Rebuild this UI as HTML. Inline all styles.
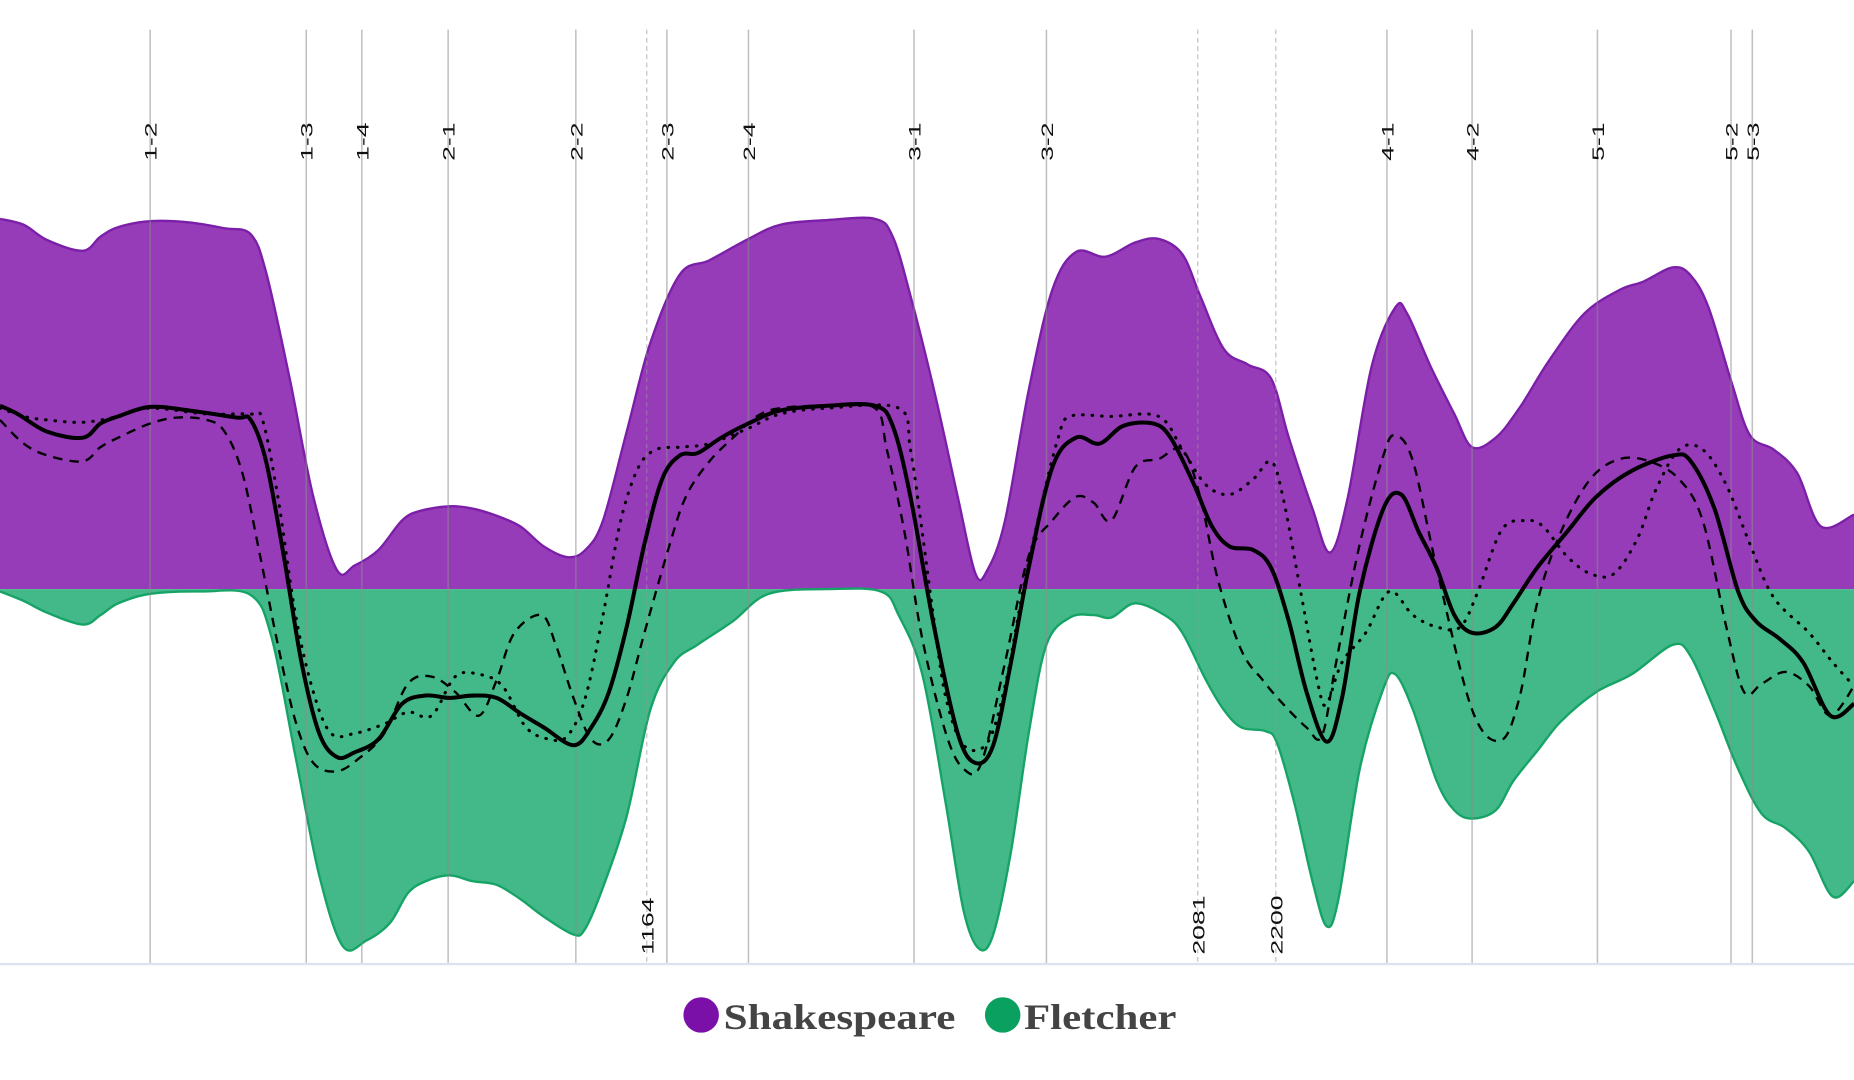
<!DOCTYPE html>
<html>
<head>
<meta charset="utf-8">
<style>
  html,body{margin:0;padding:0;background:#fff;}
  svg{display:block;}
  .scene{font-family:"Liberation Sans Narrow","Liberation Sans",sans-serif;font-size:18px;fill:#111;}
  .legend-text{font-family:"Liberation Serif",serif;font-weight:bold;font-size:30px;fill:#444;}
</style>
</head>
<body>
<svg id="chart" width="1854" height="1080" viewBox="0 0 1568 913" preserveAspectRatio="none" xmlns="http://www.w3.org/2000/svg">
  <g id="areas"></g>
  <g id="grid"></g>
  <g id="lines"></g>
  <line x1="0" y1="815" x2="1568" y2="815" stroke="#dde3ee" stroke-width="2"/>
  <g>
    <g>
      <circle cx="593" cy="858" r="15" fill="#7a10a8"/>
      <text class="legend-text" x="612" y="870" textLength="196" lengthAdjust="spacingAndGlyphs">Shakespeare</text>
    </g>
    <g>
      <circle cx="848" cy="858" r="15" fill="#0aa060"/>
      <text class="legend-text" x="866" y="870" textLength="129" lengthAdjust="spacingAndGlyphs">Fletcher</text>
    </g>
  </g>
</svg>
<script>
// ---- data (position along play, score: + = Shakespeare, - = Fletcher) ----
const sceneNames = ["1-2","1-3","1-4","2-1","2-2","2-3","2-4","3-1","3-2","4-1","4-2","5-1","5-2","5-3"];
const scenePos = [127,259,306,379,487,564,633,773,885,1173,1245,1351,1464,1482];
const markerNames = ["1164","2081","2200"];
const markerPos = [547,1013,1079];

const shakespeareArea = [[0,313],[20,308],[40,295],[70,286],[85,298],[100,306],[127,311],[160,310],[190,305],[212,300],[225,268],[245,178],[265,78],[285,16],[300,20],[320,33],[340,58],[355,66],[380,70],[400,68],[420,62],[440,53],[460,36],[480,27],[495,33],[510,58],[530,133],[550,208],[575,266],[600,278],[633,296],[660,308],[700,312],[740,313],[755,298],[770,248],[790,168],[810,78],[825,13],[835,16],[850,58],[870,168],[890,253],[910,285],[935,281],[960,293],[980,296],[1000,283],[1015,248],[1035,203],[1055,190],[1075,178],[1090,128],[1110,68],[1125,31],[1140,78],[1160,188],[1180,238],[1190,233],[1210,188],[1230,148],[1245,120],[1265,128],[1285,153],[1310,193],[1340,233],[1370,253],[1390,260],[1415,272],[1430,265],[1445,238],[1465,173],[1480,130],[1500,118],[1520,98],[1540,53],[1568,63]];

const fletcherArea = [[0,-2],[20,-10],[40,-20],[70,-30],[85,-22],[100,-12],[127,-4],[170,-2],[212,-5],[230,-42],[250,-142],[270,-242],[290,-302],[310,-297],[330,-282],[345,-257],[360,-247],[380,-242],[400,-247],[420,-250],[440,-262],[460,-277],[485,-292],[495,-287],[510,-252],[530,-192],[550,-102],[570,-62],[590,-47],[620,-27],[650,-4],[700,0],[745,-2],[760,-22],[780,-72],[800,-182],[815,-272],[828,-304],[840,-292],[855,-222],[870,-122],[885,-47],[905,-24],[925,-22],[940,-24],[960,-12],[985,-22],[1000,-37],[1020,-77],[1035,-102],[1050,-117],[1070,-120],[1080,-130],[1095,-182],[1110,-247],[1122,-285],[1132,-262],[1150,-152],[1170,-84],[1180,-72],[1195,-102],[1215,-162],[1230,-187],[1245,-194],[1265,-187],[1280,-162],[1300,-137],[1320,-112],[1350,-87],[1380,-72],[1415,-47],[1430,-57],[1450,-102],[1470,-152],[1490,-190],[1510,-202],[1530,-222],[1550,-260],[1568,-247]];

const solidSeries = [[0,155],[15,148],[40,133],[70,128],[85,140],[100,146],[127,154],[160,151],[200,145],[212,143],[225,108],[240,28],[255,-62],[270,-122],[285,-142],[300,-138],[320,-127],[340,-97],[360,-90],[380,-92],[400,-90],[420,-92],[440,-105],[460,-117],[485,-132],[500,-117],[515,-87],[530,-32],[545,38],[560,93],[575,113],[590,115],[610,128],[633,140],[660,151],[700,155],[740,155],[755,138],[770,78],[790,-32],[810,-122],[825,-147],[840,-132],[855,-62],[870,18],[890,103],[910,128],[930,123],[950,138],[975,140],[990,128],[1010,88],[1025,53],[1040,36],[1060,33],[1075,18],[1090,-27],[1105,-87],[1122,-129],[1135,-92],[1150,-2],[1170,68],[1185,80],[1200,48],[1215,18],[1230,-22],[1245,-37],[1265,-32],[1280,-12],[1300,18],[1325,48],[1350,78],[1380,100],[1415,113],[1430,108],[1450,68],[1470,-2],[1485,-27],[1505,-42],[1525,-62],[1548,-107],[1568,-97]];

const dashedSeries = [[0,143],[20,123],[40,113],[70,108],[85,120],[100,128],[127,140],[150,145],[175,143],[190,133],[205,98],[220,28],[235,-47],[250,-112],[265,-147],[285,-154],[305,-142],[325,-122],[345,-80],[365,-74],[385,-87],[405,-107],[420,-77],[435,-37],[458,-22],[470,-47],[485,-92],[500,-127],[515,-127],[530,-92],[545,-37],[565,33],[580,78],[600,108],[620,128],[640,146],[660,153],[700,155],[740,153],[750,118],[765,48],[780,-42],[800,-122],[815,-152],[830,-147],[850,-62],[870,28],[890,58],[910,78],[925,73],[940,58],[960,103],[980,110],[1000,118],[1015,78],[1030,8],[1050,-52],[1068,-77],[1085,-97],[1105,-117],[1118,-124],[1130,-62],[1150,38],[1170,113],[1180,130],[1195,108],[1215,18],[1245,-102],[1269,-128],[1285,-92],[1300,-12],[1320,48],[1345,93],[1370,110],[1395,108],[1420,93],[1440,58],[1460,-32],[1475,-87],[1490,-80],[1510,-70],[1530,-82],[1548,-107],[1568,-82]];

const dottedSeries = [[0,153],[20,146],[40,143],[70,141],[100,146],[127,153],[175,148],[212,148],[222,143],[235,78],[250,-22],[265,-87],[280,-122],[300,-122],[325,-114],[345,-104],[365,-107],[385,-74],[405,-72],[425,-82],[445,-117],[465,-127],[480,-124],[495,-92],[510,-22],[525,58],[540,103],[555,118],[575,120],[600,123],[633,136],[660,148],[700,153],[760,153],[770,118],[780,48],[790,-27],[800,-92],[815,-132],[835,-130],[850,-82],[865,-2],[880,68],[895,128],[905,146],[940,146],[980,146],[1000,118],[1020,88],[1040,80],[1060,93],[1075,108],[1085,78],[1100,-2],[1115,-82],[1122,-97],[1135,-62],[1155,-37],[1175,-2],[1195,-22],[1215,-32],[1235,-32],[1250,-2],[1270,50],[1290,58],[1305,53],[1325,28],[1345,13],[1365,13],[1385,43],[1400,83],[1420,118],[1440,118],[1460,88],[1480,38],[1500,-7],[1530,-37],[1550,-62],[1568,-82]];

// ---- scales ----
const X0 = 0, X1 = 1568, BASE = 498;
function xScale(p){ return X0 + (p / 1568) * (X1 - X0); }
function yScale(v){ return BASE - v; }

const NS = "http://www.w3.org/2000/svg";
function smoothPath(data){
  const pts = data.map(d => [xScale(d[0]), yScale(d[1])]);
  let d = "M" + pts[0][0].toFixed(1) + "," + pts[0][1].toFixed(1);
  for (let i = 0; i < pts.length - 1; i++){
    const p0 = pts[i-1] || pts[i], p1 = pts[i], p2 = pts[i+1], p3 = pts[i+2] || p2;
    const c1x = p1[0] + (p2[0]-p0[0])/6, c1y = p1[1] + (p2[1]-p0[1])/6;
    const c2x = p2[0] - (p3[0]-p1[0])/6, c2y = p2[1] - (p3[1]-p1[1])/6;
    d += " C" + c1x.toFixed(1)+","+c1y.toFixed(1)+" "+c2x.toFixed(1)+","+c2y.toFixed(1)+" "+p2[0].toFixed(1)+","+p2[1].toFixed(1);
  }
  return d;
}
function areaPath(data){
  const first = data[0], last = data[data.length-1];
  return "M" + xScale(first[0]) + "," + yScale(0) + " L" + smoothPath(data).slice(1) +
         " L" + xScale(last[0]) + "," + yScale(0) + " Z";
}

const areas = document.getElementById("areas");
const shArea = document.createElementNS(NS, "path");


shArea.setAttribute("d", areaPath(shakespeareArea));
shArea.setAttribute("fill", "#963cb8");
areas.appendChild(shArea);
const shEdge = document.createElementNS(NS, "path");


shEdge.setAttribute("d", smoothPath(shakespeareArea));
shEdge.setAttribute("fill", "none");
shEdge.setAttribute("stroke", "#7b1fa8");
shEdge.setAttribute("stroke-width", "2");
areas.appendChild(shEdge);

const flArea = document.createElementNS(NS, "path");


flArea.setAttribute("d", areaPath(fletcherArea));
flArea.setAttribute("fill", "#43b98a");
areas.appendChild(flArea);
const flEdge = document.createElementNS(NS, "path");


flEdge.setAttribute("d", smoothPath(fletcherArea));
flEdge.setAttribute("fill", "none");
flEdge.setAttribute("stroke", "#16a366");
flEdge.setAttribute("stroke-width", "2");
areas.appendChild(flEdge);

// ---- gridlines & labels ----
const grid = document.getElementById("grid");
sceneNames.forEach((name, i) => {
  const x = xScale(scenePos[i]);
  const ln = document.createElementNS(NS, "line");
  
  
  ln.setAttribute("x1", x); ln.setAttribute("x2", x);
  ln.setAttribute("y1", 25); ln.setAttribute("y2", 815);
  ln.setAttribute("stroke", "rgba(140,140,140,0.55)");
  ln.setAttribute("stroke-width", "1.3");
  grid.appendChild(ln);
  const t = document.createElementNS(NS, "text");
  
  
  t.setAttribute("class", "scene");
  t.setAttribute("transform", "translate(" + (x + 5.5) + ",136) rotate(-90) scale(1.25,0.8)");
  t.textContent = name;
  grid.appendChild(t);
});
markerNames.forEach((name, i) => {
  const x = xScale(markerPos[i]);
  const ln = document.createElementNS(NS, "line");
  
  
  ln.setAttribute("x1", x); ln.setAttribute("x2", x);
  ln.setAttribute("y1", 25); ln.setAttribute("y2", 815);
  ln.setAttribute("stroke", "rgba(150,150,150,0.6)");
  ln.setAttribute("stroke-width", "1");
  ln.setAttribute("stroke-dasharray", "4 3");
  grid.appendChild(ln);
  const t = document.createElementNS(NS, "text");
  
  
  t.setAttribute("class", "scene");
  t.setAttribute("transform", "translate(" + (x + 5.5) + ",807) rotate(-90) scale(1.25,0.8)");
  t.textContent = name;
  grid.appendChild(t);
});

// ---- series lines ----
const lines = document.getElementById("lines");
function addLine(data, name, width, dash, round){
  const p = document.createElementNS(NS, "path");
  
  
  p.setAttribute("d", smoothPath(data));
  p.setAttribute("fill", "none");
  p.setAttribute("stroke", "#000");
  p.setAttribute("stroke-width", width);
  p.setAttribute("stroke-linecap", round ? "round" : "butt");
  if (dash) p.setAttribute("stroke-dasharray", dash);
  lines.appendChild(p);
}
addLine(dottedSeries, "dotted-series-line", 2.6, "0.5 7.5", true);
addLine(dashedSeries, "dashed-series-line", 2, "8 6", false);
addLine(solidSeries, "solid-series-line", 3.4, null, false);
</script>
</body>
</html>
